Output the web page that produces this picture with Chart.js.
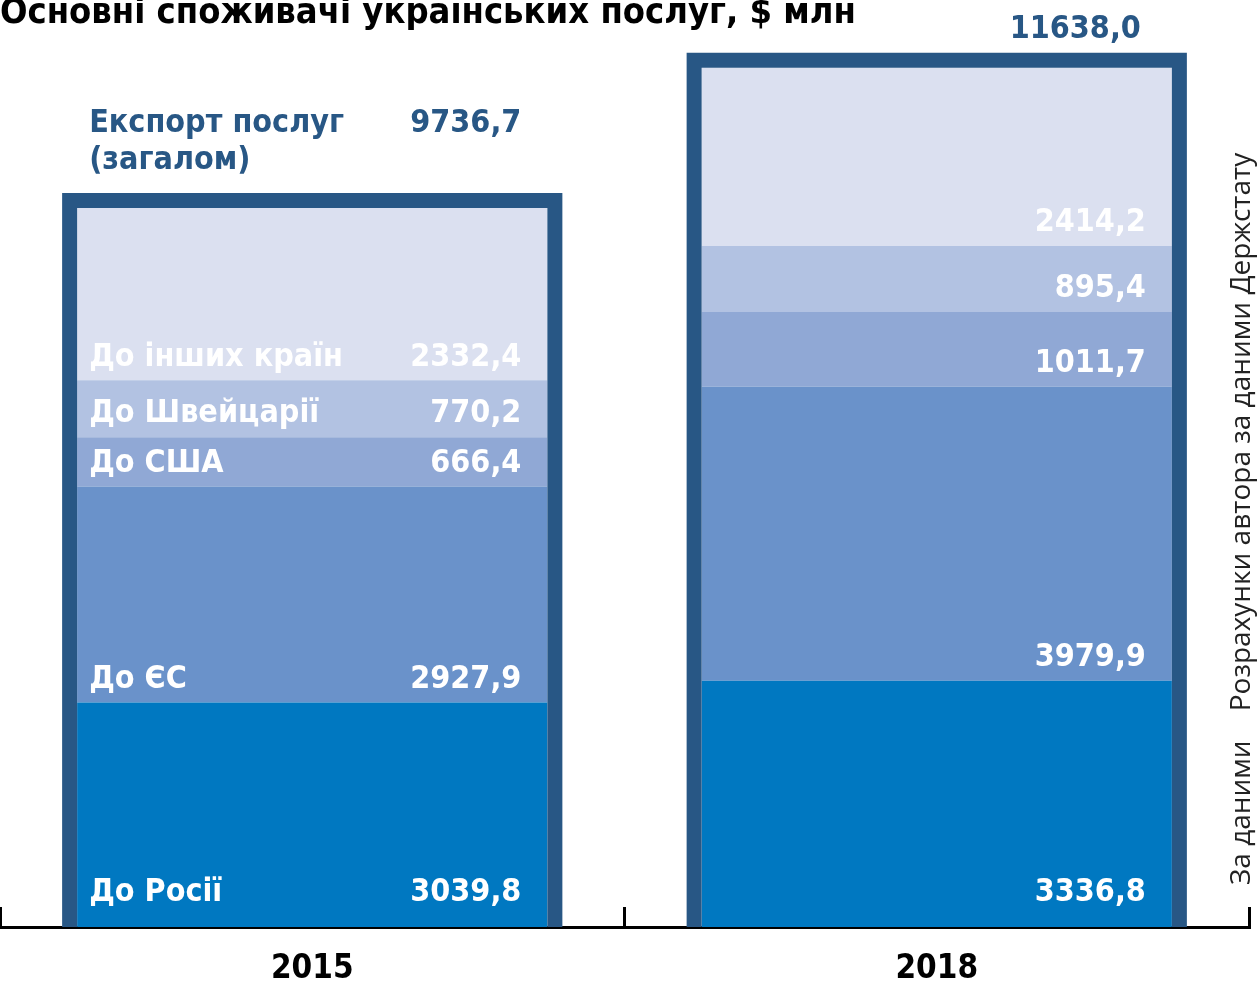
<!DOCTYPE html>
<html>
<head>
<meta charset="utf-8">
<script src="https://cdn.jsdelivr.net/npm/chart.js@4"></script>
<style>
  html, body { margin: 0; padding: 0; background: #fff; }
  #wrap { width: 1257px; height: 983px; }
</style>
</head>
<body>
<div id="wrap"><canvas id="bar-chart"></canvas></div>
<script>
// data, $ mln
var years = ['2015', '2018'];
var segmentNames = ['До Росії', 'До ЄС', 'До США', 'До Швейцарії', 'До інших країн'];
var russia = [3039.8, 3336.8];
var eu = [2927.9, 3979.9];
var usa = [666.4, 1011.7];
var swiss = [770.2, 895.4];
var others = [2332.4, 2414.2];
var totals = [9736.7, 11638.0];
var totalName = ['Експорт послуг', '(загалом)'];

var NARROW = '"DejaVu Sans Condensed", "Liberation Sans Narrow", sans-serif';
var navy = '#285785';
var colors = ['#0078c1', '#6a92ca', '#90a8d5', '#b2c2e2', '#dbe0f0'];
var frameWidth = 15;

function fmt(v) {
  return v.toFixed(1).replace('.', ',');
}

// frame round each stack + text in the segments
var framePlugin = {
  id: 'frame',
  afterDatasetsDraw: function(chart) {
    var ctx = chart.ctx;
    var n = chart.data.datasets.length;
    var topMeta = chart.getDatasetMeta(n - 1);
    var xScale = chart.scales.x;
    var ca = chart.chartArea;
    var base = chart.scales.y.getPixelForValue(0);
    ctx.save();
    topMeta.data.forEach(function(bar, i) {
      var left = bar.x - bar.width / 2;
      var right = bar.x + bar.width / 2;
      var h = frameWidth / 2;
      ctx.beginPath();
      ctx.moveTo(left - h, base);
      ctx.lineTo(left - h, bar.y - h);
      ctx.lineTo(right + h, bar.y - h);
      ctx.lineTo(right + h, base);
      ctx.lineWidth = frameWidth;
      ctx.strokeStyle = navy;
      ctx.lineJoin = 'miter';
      ctx.stroke();

      // segment labels
      ctx.fillStyle = '#fff';
      ctx.font = 'bold 32px ' + NARROW;
      ctx.textBaseline = 'middle';
      for (var d = 0; d < n; d++) {
        var el = chart.getDatasetMeta(d).data[i];
        var y = el.base - (d === 0 ? 34 : 23);
        ctx.textAlign = 'right';
        ctx.fillText(fmt(chart.data.datasets[d].data[i]), right - 26, y);
        if (i === 0) {
          ctx.textAlign = 'left';
          ctx.fillText(chart.data.datasets[d].label, left + 12, y);
        }
      }

      // total above the frame
      ctx.fillStyle = navy;
      var frameTop = bar.y - frameWidth;
      if (i === 0) {
        ctx.textAlign = 'left';
        ctx.fillText(totalName[0], left + 12, frameTop - 69);
        ctx.fillText(totalName[1], left + 12, frameTop - 32);
        ctx.textAlign = 'right';
        ctx.fillText(fmt(totals[i]), right - 26, frameTop - 69);
      } else {
        ctx.textAlign = 'right';
        ctx.fillText(fmt(totals[i]), right - 31, frameTop - 23);
      }

      // year under the axis
      ctx.fillStyle = '#000';
      ctx.font = 'bold 33px ' + NARROW;
      ctx.textAlign = 'center';
      ctx.fillText(chart.data.labels[i], xScale.getPixelForTick(i), base + 42);
    });

    // source, rotated along the right edge
    ctx.translate(ca.right + 1, base - 42);
    ctx.rotate(-Math.PI / 2);
    ctx.fillStyle = '#222';
    ctx.font = '28px "Open Sans", sans-serif';
    ctx.textAlign = 'left';
    ctx.textBaseline = 'alphabetic';
    ctx.fillText('За даними    Розрахунки автора за даними Держстату', 0, 0);
    ctx.restore();
  }
};

var seriesList = [russia, eu, usa, swiss, others];

new Chart(document.getElementById('bar-chart'), {
  type: 'bar',
  data: {
    labels: years,
    datasets: seriesList.map(function(s, k) {
      return {
        label: segmentNames[k],
        data: s,
        backgroundColor: colors[k],
        borderWidth: 0,
        categoryPercentage: 1,
        barPercentage: 0.753
      };
    })
  },
  plugins: [framePlugin],
  options: {
    responsive: true,
    maintainAspectRatio: false,
    animation: false,
    layout: {
      padding: { left: 0, right: 8, top: 0, bottom: 0 }
    },
    plugins: {
      legend: { display: false },
      tooltip: { enabled: false },
      title: {
        display: true,
        text: 'Основні споживачі українських послуг, $ млн',
        align: 'start',
        color: '#000',
        font: { family: NARROW, size: 36, weight: 'bold', lineHeight: 1 },
        padding: { top: -4, bottom: 9 }
      }
    },
    scales: {
      x: {
        stacked: true,
        z: 1,
        afterFit: function(scale) { scale.height = 56; },
        border: { display: true, color: '#000', width: 3 },
        grid: {
          offset: true,
          drawOnChartArea: false,
          drawTicks: true,
          tickLength: -20,
          tickColor: '#000',
          tickWidth: 3
        },
        ticks: { display: false }
      },
      y: {
        stacked: true,
        display: false,
        min: 0,
        max: 12000
      }
    }
  }
});
</script>
</body>
</html>
